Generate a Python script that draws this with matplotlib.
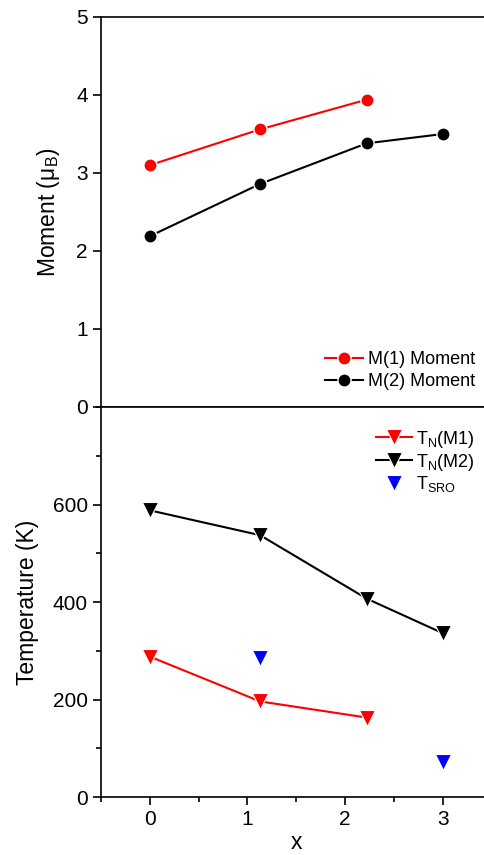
import numpy as np
import matplotlib
matplotlib.use('Agg')
import matplotlib.pyplot as plt
from matplotlib.ticker import MultipleLocator

plt.rcParams['font.family'] = ['Liberation Sans', 'DejaVu Sans']
plt.rcParams['mathtext.default'] = 'regular'

# data
x = [0, 1.13, 2.22, 3.0]
m1_moment = [3.10, 3.56, 3.94]
m2_moment = [2.19, 2.86, 3.38, 3.50]
tn_m1 = [288, 196, 163]
tn_m2 = [588, 537, 407, 336]
x_sro = [1.13, 3.0]
t_sro = [286, 71]

fig = plt.figure(figsize=(4.84, 8.55), dpi=100)
left, width = 101/484, (491.6-101)/484
ax1 = fig.add_axes([left, (855-407)/855, width, 390/855])
ax2 = fig.add_axes([left, (855-797)/855, width, 390/855])

ax1.plot(x[:3], m1_moment, '-o', color='red', lw=1.5, ms=9.5, mec='white', mew=1,
         label='M(1) Moment')
ax1.plot(x, m2_moment, '-o', color='black', lw=1.5, ms=9.5, mec='white', mew=1,
         label='M(2) Moment')
ax1.set_ylim(0, 5)
ax1.set_xlim(-0.5, 3.5)
ax1.set_ylabel(r'Moment ($\mu_B$)', fontsize=16.5, labelpad=10)
ax1.tick_params(axis='x', which='both', bottom=False, labelbottom=False)
ax1.legend(loc='lower right', bbox_to_anchor=(0.985, 0.015), frameon=False,
           fontsize=13, handlelength=2.1, handletextpad=0.25, labelspacing=0.28,
           borderaxespad=0.2)

ax2.plot(x[:3], tn_m1, '-v', color='red', lw=1.5, ms=12, mec='white', mew=0.8,
         label=r'T$_N$(M1)')
ax2.plot(x, tn_m2, '-v', color='black', lw=1.5, ms=12, mec='white', mew=0.8,
         label=r'T$_N$(M2)')
ax2.plot(x_sro, t_sro, 'v', color='blue', ms=12, mec='white', mew=0.8,
         label=r'T$_{SRO}$')
ax2.set_ylim(0, 800)
ax2.set_xlim(-0.5, 3.5)
ax2.set_yticks([0, 200, 400, 600])
ax2.yaxis.set_minor_locator(MultipleLocator(100))
ax2.xaxis.set_major_locator(MultipleLocator(1))
ax2.xaxis.set_minor_locator(MultipleLocator(0.5))
ax2.set_ylabel('Temperature (K)', fontsize=16.5, labelpad=10)
ax2.set_xlabel('x', fontsize=16.5, labelpad=1)
ax2.legend(loc='upper right', bbox_to_anchor=(0.985, 0.972), frameon=False,
           fontsize=13, handlelength=2.0, handletextpad=0.25, labelspacing=0.1,
           borderaxespad=0.2)

for ax in (ax1, ax2):
    for s in ax.spines.values():
        s.set_linewidth(1.2)
    ax.tick_params(which='major', direction='out', length=6, width=1.2,
                   labelsize=15)
    ax.tick_params(which='minor', direction='out', length=3.5, width=1.2)
    ax.tick_params(axis='x', which='both', top=False)
    ax.tick_params(axis='y', which='both', right=False)

fig.savefig('out.png', dpi=100)
